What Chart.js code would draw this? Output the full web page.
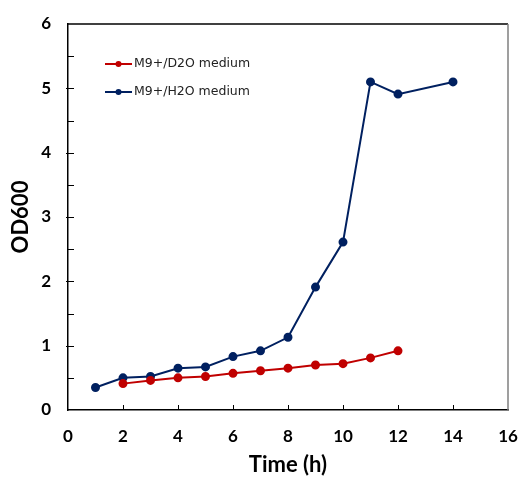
<!DOCTYPE html>
<html>
<head>
<meta charset="utf-8">
<script src="https://cdn.jsdelivr.net/npm/chart.js@4.4.1/dist/chart.umd.min.js"></script>
<style>
  html, body { margin: 0; padding: 0; background: #fff; }
  #wrap { width: 522px; height: 478px; }
</style>
</head>
<body>
<div id="wrap"><canvas id="growthChart" width="522" height="478"></canvas></div>
<script>
// Growth curves, OD600 against time
const timeD2O = [2, 3, 4, 5, 6, 7, 8, 9, 10, 11, 12];
const odD2O = [0.41, 0.46, 0.50, 0.52, 0.57, 0.61, 0.65, 0.70, 0.72, 0.81, 0.92];

const timeH2O = [1, 2, 3, 4, 5, 6, 7, 8, 9, 10, 11, 12, 14];
const odH2O = [0.35, 0.50, 0.52, 0.65, 0.67, 0.83, 0.92, 1.13, 1.91, 2.61, 5.10, 4.91, 5.10];

const seriesLabels = ['M9+/D2O medium', 'M9+/H2O medium'];
const seriesColors = ['#C00000', '#002060'];

const xTicks = [0, 2, 4, 6, 8, 10, 12, 14, 16];
const yTicks = [0, 1, 2, 3, 4, 5, 6];

const toPoints = (xs, ys) => xs.map((x, i) => ({ x: x, y: ys[i] }));

// Frame, inward ticks and the in-plot legend
const framePlugin = {
    id: 'frame',
    afterDraw: function(chart) {
        const ctx = chart.ctx;
        const area = chart.chartArea;
        const xs = chart.scales.x;
        const ys = chart.scales.y;
        ctx.save();
        ctx.lineWidth = 1.5;
        ctx.strokeStyle = '#000';
        ctx.beginPath();
        ctx.moveTo(area.left, area.top);
        ctx.lineTo(area.right, area.top);
        ctx.stroke();
        ctx.strokeStyle = '#7f7f7f';
        ctx.beginPath();
        ctx.moveTo(area.right, area.top);
        ctx.lineTo(area.right, area.bottom);
        ctx.stroke();

        ctx.strokeStyle = '#000';
        ctx.lineWidth = 1;
        // y ticks: whole numbers cross the axis, halves sit inside
        ys.ticks.forEach(t => {
            const py = Math.round(ys.getPixelForValue(t.value)) + 0.5;
            const major = Number.isInteger(t.value);
            if (t.value === 0 || t.value === 6) return;
            ctx.beginPath();
            ctx.moveTo(area.left - (major ? 2 : 0), py);
            ctx.lineTo(area.left + 6, py);
            ctx.stroke();
        });
        // x ticks point up into the plot
        xs.ticks.forEach(t => {
            if (t.value === 0 || t.value === 16) return;
            const px = Math.round(xs.getPixelForValue(t.value)) + 0.5;
            ctx.beginPath();
            ctx.moveTo(px, area.bottom);
            ctx.lineTo(px, area.bottom - 5);
            ctx.stroke();
        });

        // legend
        ctx.font = '12.5px "DejaVu Sans"';
        ctx.textBaseline = 'middle';
        ctx.textAlign = 'left';
        chart.data.datasets.forEach((ds, i) => {
            const ly = 64 + i * 28;
            ctx.strokeStyle = ds.borderColor;
            ctx.lineWidth = 2;
            ctx.beginPath();
            ctx.moveTo(105, ly);
            ctx.lineTo(132, ly);
            ctx.stroke();
            ctx.fillStyle = ds.borderColor;
            ctx.beginPath();
            ctx.arc(118.5, ly, 3, 0, Math.PI * 2);
            ctx.fill();
            ctx.fillStyle = '#222';
            ctx.fillText(ds.label, 134, ly);
        });
        ctx.restore();
    }
};

const tickFont = { family: 'Lato', size: 17, weight: 'bold' };

new Chart(document.getElementById('growthChart').getContext('2d'), {
    type: 'line',
    data: {
        datasets: [
            {
                label: seriesLabels[0],
                data: toPoints(timeD2O, odD2O),
                borderColor: seriesColors[0],
                backgroundColor: seriesColors[0],
                borderWidth: 2,
                pointRadius: 3.5,
                pointHoverRadius: 3.5,
                tension: 0
            },
            {
                label: seriesLabels[1],
                data: toPoints(timeH2O, odH2O),
                borderColor: seriesColors[1],
                backgroundColor: seriesColors[1],
                borderWidth: 2,
                pointRadius: 3.5,
                pointHoverRadius: 3.5,
                tension: 0
            }
        ]
    },
    options: {
        responsive: false,
        animation: false,
        layout: { padding: { top: 24, right: 14, left: 0, bottom: 0 } },
        plugins: {
            legend: { display: false },
            tooltip: { enabled: false }
        },
        scales: {
            x: {
                type: 'linear',
                min: 0,
                max: 16,
                afterBuildTicks: s => { s.ticks = xTicks.map(v => ({ value: v })); },
                afterFit: s => { s.height = 68; s.paddingLeft = 0; s.paddingRight = 0; },
                grid: { display: false, drawTicks: false },
                border: { display: true, color: '#000', width: 1.5 },
                ticks: { color: '#000', font: tickFont, padding: 16, maxRotation: 0 },
                title: { display: true, text: 'Time (h)', color: '#000', font: { family: 'Lato', size: 22, weight: 'bold' }, padding: { top: 12, bottom: 0 } }
            },
            y: {
                min: 0,
                max: 6,
                afterBuildTicks: s => {
                    const ticks = [];
                    yTicks.forEach((v, i) => {
                        ticks.push({ value: v });
                        if (i < yTicks.length - 1) ticks.push({ value: v + 0.5 });
                    });
                    s.ticks = ticks;
                },
                afterFit: s => { s.width = 68; s.paddingTop = 0; s.paddingBottom = 0; },
                grid: { display: false, drawTicks: false },
                border: { display: true, color: '#000', width: 1.5 },
                ticks: {
                    color: '#000',
                    font: tickFont,
                    padding: 17,
                    callback: v => Number.isInteger(v) ? String(v) : ''
                },
                title: { display: true, text: 'OD600', color: '#000', font: { family: 'Lato', size: 22, weight: 'bold' }, padding: { bottom: 0, top: 8 } }
            }
        }
    },
    plugins: [framePlugin]
});
</script>
</body>
</html>
